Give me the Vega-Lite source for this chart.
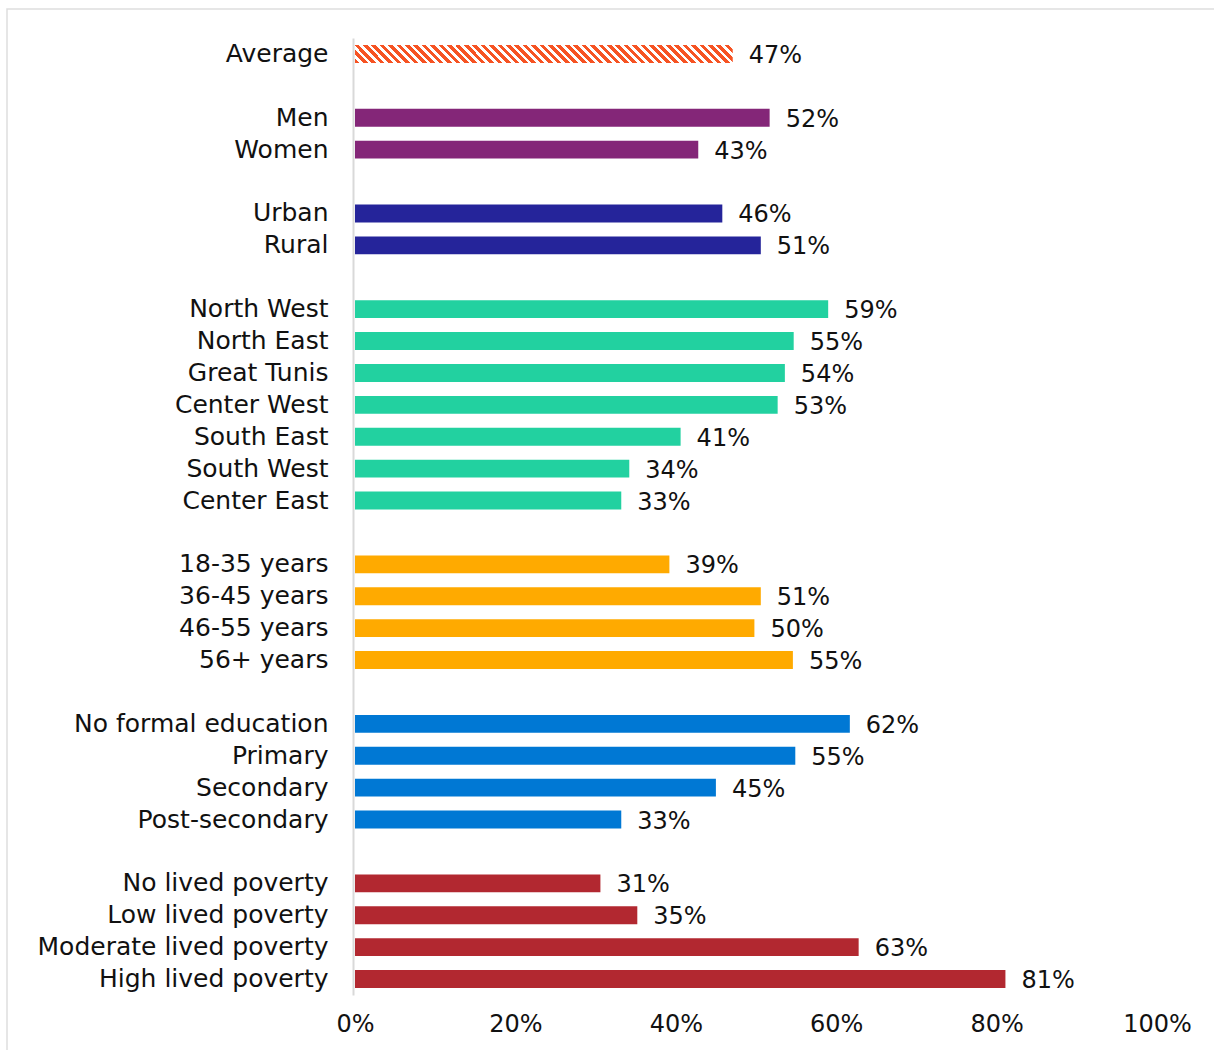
{
  "$schema": "https://vega.github.io/schema/vega-lite/v6.json",
  "autosize": {"type": "none"},
  "padding": {"left": 7, "top": 9, "right": -4, "bottom": -4},
  "width": 1211,
  "height": 1045,
  "background": "white",
  "config": {"view": {"stroke": "#dedede", "strokeWidth": 1.5}, "font": "DejaVu Sans"},
  "data": {"values": [
    {"category": "Average", "group": "avg", "value": 0.471},
    {"category": "Men", "group": "gender", "value": 0.517},
    {"category": "Women", "group": "gender", "value": 0.428},
    {"category": "Urban", "group": "loc", "value": 0.458},
    {"category": "Rural", "group": "loc", "value": 0.506},
    {"category": "North West", "group": "region", "value": 0.590},
    {"category": "North East", "group": "region", "value": 0.547},
    {"category": "Great Tunis", "group": "region", "value": 0.536},
    {"category": "Center West", "group": "region", "value": 0.527},
    {"category": "South East", "group": "region", "value": 0.406},
    {"category": "South West", "group": "region", "value": 0.342},
    {"category": "Center East", "group": "region", "value": 0.332},
    {"category": "18-35 years", "group": "age", "value": 0.392},
    {"category": "36-45 years", "group": "age", "value": 0.506},
    {"category": "46-55 years", "group": "age", "value": 0.498},
    {"category": "56+ years", "group": "age", "value": 0.546},
    {"category": "No formal education", "group": "edu", "value": 0.617},
    {"category": "Primary", "group": "edu", "value": 0.549},
    {"category": "Secondary", "group": "edu", "value": 0.450},
    {"category": "Post-secondary", "group": "edu", "value": 0.332},
    {"category": "No lived poverty", "group": "pov", "value": 0.306},
    {"category": "Low lived poverty", "group": "pov", "value": 0.352},
    {"category": "Moderate lived poverty", "group": "pov", "value": 0.628},
    {"category": "High lived poverty", "group": "pov", "value": 0.811}
  ]},
  "encoding": {
    "y": {
      "field": "category", "type": "nominal",
      "scale": {
        "domain": ["Average", " ", "Men", "Women", "  ", "Urban", "Rural", "   ", "North West", "North East", "Great Tunis", "Center West", "South East", "South West", "Center East", "    ", "18-35 years", "36-45 years", "46-55 years", "56+ years", "     ", "No formal education", "Primary", "Secondary", "Post-secondary", "      ", "No lived poverty", "Low lived poverty", "Moderate lived poverty", "High lived poverty"],
        "range": [29, 986],
        "paddingInner": 0.44,
        "paddingOuter": 0.22
      },
      "axis": {
        "title": null, "orient": "left", "offset": -346,
        "domainColor": "#d9d9d9", "domainWidth": 2,
        "ticks": false, "labelPadding": 25, "labelFontSize": 25,
        "labelColor": "#111", "labelLimit": 400, "labelFont": "DejaVu Sans"
      }
    },
    "x": {
      "field": "value", "type": "quantitative",
      "scale": {"domain": [0, 1], "range": [348, 1150], "nice": false},
      "axis": {
        "title": null, "orient": "bottom", "offset": -59, "format": ".0%",
        "values": [0, 0.2, 0.4, 0.6, 0.8, 1], "domain": false, "ticks": false,
        "grid": false, "labelPadding": 17, "labelFontSize": 24, "labelColor": "#111",
        "labelFlush": false, "labelFont": "DejaVu Sans"
      }
    }
  },
  "layer": [
    {
      "transform": [{"filter": "datum.group !== 'avg'"}],
      "mark": {"type": "bar"},
      "encoding": {
        "color": {
          "field": "group", "type": "nominal", "legend": null,
          "scale": {
            "domain": ["gender", "loc", "region", "age", "edu", "pov"],
            "range": ["#842678", "#25249A", "#22D1A0", "#FFAA00", "#0078D4", "#B22830"]
          }
        }
      }
    },
    {
      "transform": [{"filter": "datum.group === 'avg'"}],
      "mark": {
        "type": "bar",
        "fill": {
          "gradient": "linear", "x1": 0, "y1": 1, "x2": 1.0449, "y2": 0.9507,
          "stops": [
            {"offset": 0, "color": "#f65323"}, {"offset": 0.0117, "color": "#f65323"}, {"offset": 0.0117, "color": "#fff"}, {"offset": 0.0213, "color": "#fff"},
            {"offset": 0.0213, "color": "#f65323"}, {"offset": 0.0330, "color": "#f65323"}, {"offset": 0.0330, "color": "#fff"}, {"offset": 0.0426, "color": "#fff"},
            {"offset": 0.0426, "color": "#f65323"}, {"offset": 0.0543, "color": "#f65323"}, {"offset": 0.0543, "color": "#fff"}, {"offset": 0.0638, "color": "#fff"},
            {"offset": 0.0638, "color": "#f65323"}, {"offset": 0.0755, "color": "#f65323"}, {"offset": 0.0755, "color": "#fff"}, {"offset": 0.0851, "color": "#fff"},
            {"offset": 0.0851, "color": "#f65323"}, {"offset": 0.0968, "color": "#f65323"}, {"offset": 0.0968, "color": "#fff"}, {"offset": 0.1064, "color": "#fff"},
            {"offset": 0.1064, "color": "#f65323"}, {"offset": 0.1181, "color": "#f65323"}, {"offset": 0.1181, "color": "#fff"}, {"offset": 0.1277, "color": "#fff"},
            {"offset": 0.1277, "color": "#f65323"}, {"offset": 0.1394, "color": "#f65323"}, {"offset": 0.1394, "color": "#fff"}, {"offset": 0.1489, "color": "#fff"},
            {"offset": 0.1489, "color": "#f65323"}, {"offset": 0.1606, "color": "#f65323"}, {"offset": 0.1606, "color": "#fff"}, {"offset": 0.1702, "color": "#fff"},
            {"offset": 0.1702, "color": "#f65323"}, {"offset": 0.1819, "color": "#f65323"}, {"offset": 0.1819, "color": "#fff"}, {"offset": 0.1915, "color": "#fff"},
            {"offset": 0.1915, "color": "#f65323"}, {"offset": 0.2032, "color": "#f65323"}, {"offset": 0.2032, "color": "#fff"}, {"offset": 0.2128, "color": "#fff"},
            {"offset": 0.2128, "color": "#f65323"}, {"offset": 0.2245, "color": "#f65323"}, {"offset": 0.2245, "color": "#fff"}, {"offset": 0.2340, "color": "#fff"},
            {"offset": 0.2340, "color": "#f65323"}, {"offset": 0.2457, "color": "#f65323"}, {"offset": 0.2457, "color": "#fff"}, {"offset": 0.2553, "color": "#fff"},
            {"offset": 0.2553, "color": "#f65323"}, {"offset": 0.2670, "color": "#f65323"}, {"offset": 0.2670, "color": "#fff"}, {"offset": 0.2766, "color": "#fff"},
            {"offset": 0.2766, "color": "#f65323"}, {"offset": 0.2883, "color": "#f65323"}, {"offset": 0.2883, "color": "#fff"}, {"offset": 0.2979, "color": "#fff"},
            {"offset": 0.2979, "color": "#f65323"}, {"offset": 0.3096, "color": "#f65323"}, {"offset": 0.3096, "color": "#fff"}, {"offset": 0.3191, "color": "#fff"},
            {"offset": 0.3191, "color": "#f65323"}, {"offset": 0.3308, "color": "#f65323"}, {"offset": 0.3308, "color": "#fff"}, {"offset": 0.3404, "color": "#fff"},
            {"offset": 0.3404, "color": "#f65323"}, {"offset": 0.3521, "color": "#f65323"}, {"offset": 0.3521, "color": "#fff"}, {"offset": 0.3617, "color": "#fff"},
            {"offset": 0.3617, "color": "#f65323"}, {"offset": 0.3734, "color": "#f65323"}, {"offset": 0.3734, "color": "#fff"}, {"offset": 0.3830, "color": "#fff"},
            {"offset": 0.3830, "color": "#f65323"}, {"offset": 0.3947, "color": "#f65323"}, {"offset": 0.3947, "color": "#fff"}, {"offset": 0.4043, "color": "#fff"},
            {"offset": 0.4043, "color": "#f65323"}, {"offset": 0.4160, "color": "#f65323"}, {"offset": 0.4160, "color": "#fff"}, {"offset": 0.4255, "color": "#fff"},
            {"offset": 0.4255, "color": "#f65323"}, {"offset": 0.4372, "color": "#f65323"}, {"offset": 0.4372, "color": "#fff"}, {"offset": 0.4468, "color": "#fff"},
            {"offset": 0.4468, "color": "#f65323"}, {"offset": 0.4585, "color": "#f65323"}, {"offset": 0.4585, "color": "#fff"}, {"offset": 0.4681, "color": "#fff"},
            {"offset": 0.4681, "color": "#f65323"}, {"offset": 0.4798, "color": "#f65323"}, {"offset": 0.4798, "color": "#fff"}, {"offset": 0.4894, "color": "#fff"},
            {"offset": 0.4894, "color": "#f65323"}, {"offset": 0.5011, "color": "#f65323"}, {"offset": 0.5011, "color": "#fff"}, {"offset": 0.5106, "color": "#fff"},
            {"offset": 0.5106, "color": "#f65323"}, {"offset": 0.5223, "color": "#f65323"}, {"offset": 0.5223, "color": "#fff"}, {"offset": 0.5319, "color": "#fff"},
            {"offset": 0.5319, "color": "#f65323"}, {"offset": 0.5436, "color": "#f65323"}, {"offset": 0.5436, "color": "#fff"}, {"offset": 0.5532, "color": "#fff"},
            {"offset": 0.5532, "color": "#f65323"}, {"offset": 0.5649, "color": "#f65323"}, {"offset": 0.5649, "color": "#fff"}, {"offset": 0.5745, "color": "#fff"},
            {"offset": 0.5745, "color": "#f65323"}, {"offset": 0.5862, "color": "#f65323"}, {"offset": 0.5862, "color": "#fff"}, {"offset": 0.5957, "color": "#fff"},
            {"offset": 0.5957, "color": "#f65323"}, {"offset": 0.6074, "color": "#f65323"}, {"offset": 0.6074, "color": "#fff"}, {"offset": 0.6170, "color": "#fff"},
            {"offset": 0.6170, "color": "#f65323"}, {"offset": 0.6287, "color": "#f65323"}, {"offset": 0.6287, "color": "#fff"}, {"offset": 0.6383, "color": "#fff"},
            {"offset": 0.6383, "color": "#f65323"}, {"offset": 0.6500, "color": "#f65323"}, {"offset": 0.6500, "color": "#fff"}, {"offset": 0.6596, "color": "#fff"},
            {"offset": 0.6596, "color": "#f65323"}, {"offset": 0.6713, "color": "#f65323"}, {"offset": 0.6713, "color": "#fff"}, {"offset": 0.6809, "color": "#fff"},
            {"offset": 0.6809, "color": "#f65323"}, {"offset": 0.6926, "color": "#f65323"}, {"offset": 0.6926, "color": "#fff"}, {"offset": 0.7021, "color": "#fff"},
            {"offset": 0.7021, "color": "#f65323"}, {"offset": 0.7138, "color": "#f65323"}, {"offset": 0.7138, "color": "#fff"}, {"offset": 0.7234, "color": "#fff"},
            {"offset": 0.7234, "color": "#f65323"}, {"offset": 0.7351, "color": "#f65323"}, {"offset": 0.7351, "color": "#fff"}, {"offset": 0.7447, "color": "#fff"},
            {"offset": 0.7447, "color": "#f65323"}, {"offset": 0.7564, "color": "#f65323"}, {"offset": 0.7564, "color": "#fff"}, {"offset": 0.7660, "color": "#fff"},
            {"offset": 0.7660, "color": "#f65323"}, {"offset": 0.7777, "color": "#f65323"}, {"offset": 0.7777, "color": "#fff"}, {"offset": 0.7872, "color": "#fff"},
            {"offset": 0.7872, "color": "#f65323"}, {"offset": 0.7989, "color": "#f65323"}, {"offset": 0.7989, "color": "#fff"}, {"offset": 0.8085, "color": "#fff"},
            {"offset": 0.8085, "color": "#f65323"}, {"offset": 0.8202, "color": "#f65323"}, {"offset": 0.8202, "color": "#fff"}, {"offset": 0.8298, "color": "#fff"},
            {"offset": 0.8298, "color": "#f65323"}, {"offset": 0.8415, "color": "#f65323"}, {"offset": 0.8415, "color": "#fff"}, {"offset": 0.8511, "color": "#fff"},
            {"offset": 0.8511, "color": "#f65323"}, {"offset": 0.8628, "color": "#f65323"}, {"offset": 0.8628, "color": "#fff"}, {"offset": 0.8723, "color": "#fff"},
            {"offset": 0.8723, "color": "#f65323"}, {"offset": 0.8840, "color": "#f65323"}, {"offset": 0.8840, "color": "#fff"}, {"offset": 0.8936, "color": "#fff"},
            {"offset": 0.8936, "color": "#f65323"}, {"offset": 0.9053, "color": "#f65323"}, {"offset": 0.9053, "color": "#fff"}, {"offset": 0.9149, "color": "#fff"},
            {"offset": 0.9149, "color": "#f65323"}, {"offset": 0.9266, "color": "#f65323"}, {"offset": 0.9266, "color": "#fff"}, {"offset": 0.9362, "color": "#fff"},
            {"offset": 0.9362, "color": "#f65323"}, {"offset": 0.9479, "color": "#f65323"}, {"offset": 0.9479, "color": "#fff"}, {"offset": 0.9574, "color": "#fff"},
            {"offset": 0.9574, "color": "#f65323"}, {"offset": 0.9691, "color": "#f65323"}, {"offset": 0.9691, "color": "#fff"}, {"offset": 0.9787, "color": "#fff"},
            {"offset": 0.9787, "color": "#f65323"}, {"offset": 0.9904, "color": "#f65323"}, {"offset": 0.9904, "color": "#fff"}, {"offset": 1, "color": "#fff"}
          ]
        }
      },
      "encoding": {}
    },
    {
      "mark": {"type": "text", "align": "left", "baseline": "middle", "dx": 16, "dy": 2, "fontSize": 24, "color": "#111", "font": "DejaVu Sans"},
      "encoding": {
        "text": {"field": "value", "type": "quantitative", "format": ".0%"}
      }
    }
  ]
}
